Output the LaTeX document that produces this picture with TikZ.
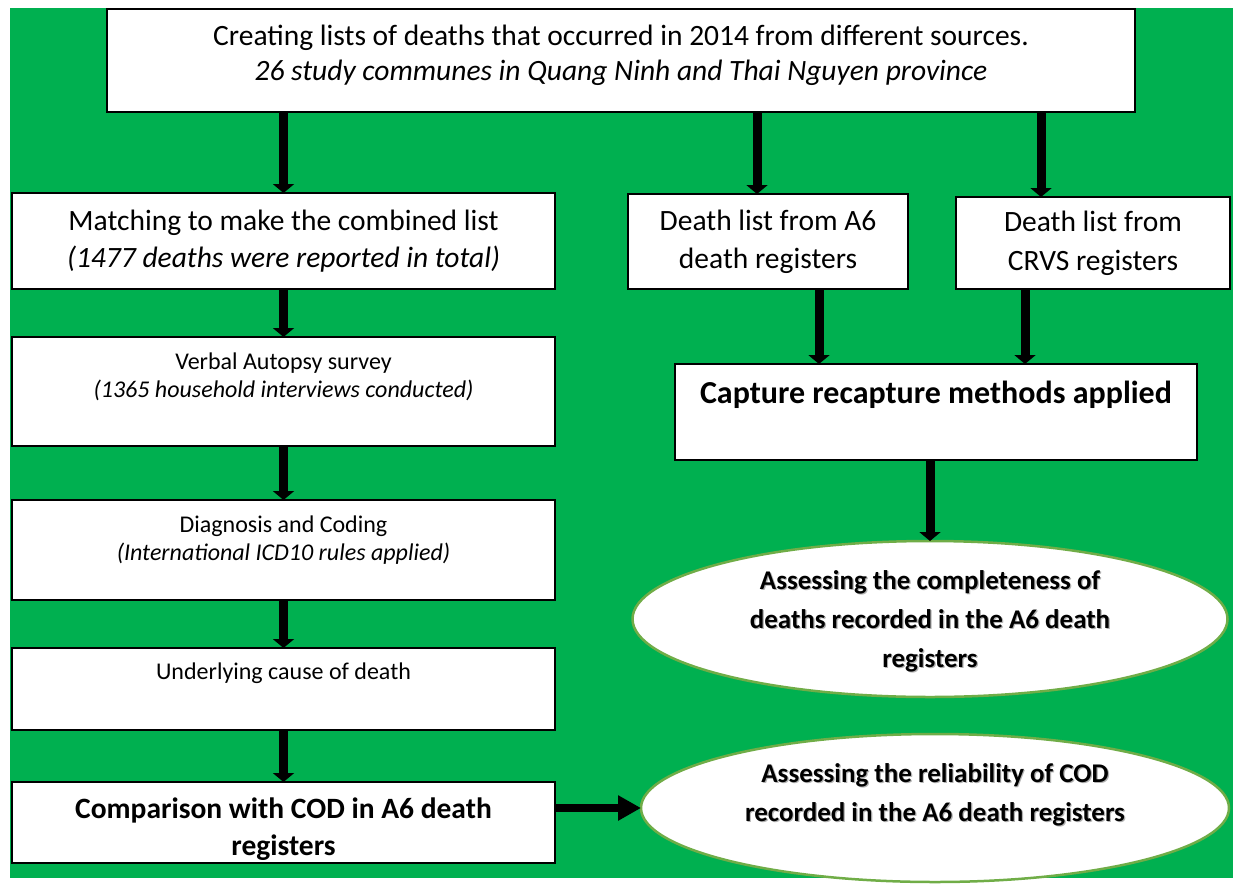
\documentclass[tikz,border=0pt]{standalone}
\usepackage{fontspec}
\setmainfont{Carlito}
\usetikzlibrary{arrows.meta,positioning,shapes.geometric}
\definecolor{bggreen}{RGB}{0,176,80}
\definecolor{ovalline}{RGB}{112,173,71}
% text block of fixed height, lines start at its top
\newcommand{\topfill}[3]{\parbox[c][#2][t]{#1}{\centering #3}}
% same, with a light shadow under the letters
\newcommand{\shadefill}[3]{\rlap{\hspace{1.2pt}\raisebox{-1.2pt}{\color{black!30}\topfill{#1}{#2}{#3}}}\topfill{#1}{#2}{#3}}
\tikzset{
  stepbox/.style={rectangle, draw=black, line width=2pt, fill=white,
                  align=center, inner sep=0pt, outer sep=0pt},
  leftbox/.style={stepbox, minimum width=543pt},
  ovalbox/.style={ellipse, draw=ovalline, line width=2.5pt, fill=white,
                  inner sep=0pt, outer sep=0pt,
                  font=\bfseries\fontsize{27}{39}\selectfont},
  txtlarge/.style={font=\fontsize{29.5}{37}\selectfont},
  txtsmall/.style={font=\fontsize{24}{28}\selectfont},
  txtbold/.style={font=\bfseries\fontsize{29.5}{37}\selectfont},
  downarr/.style={-{Triangle[width=21pt,length=9pt]}, line width=9pt, black},
  sidearr/.style={-{Triangle[width=24pt,length=23pt]}, line width=8pt, black},
}
\begin{document}
\begin{tikzpicture}[x=1pt,y=-1pt]
  % backdrop
  \fill[white] (0,0) rectangle (1233,878);
  \fill[bggreen] (10,8) rectangle (1233,878);

  % source lists
  \node[stepbox, line width=2.5pt, minimum width=1028pt, minimum height=103pt,
        font=\fontsize{29.5}{35}\selectfont] (src) at (621,60.5)
    {\topfill{1000pt}{70pt}{Creating lists of deaths that occurred in 2014 from different sources.\\ \textit{26 study communes in Quang Ninh and Thai Nguyen province}}};

  % left column
  \node[leftbox, minimum height=96pt, txtlarge] (match) at (283.5,241)
    {Matching to make the combined list\\ \textit{(1477 deaths were reported in total)}};
  \node[leftbox, minimum height=109pt, txtsmall, below=48pt of match] (va)
    {\topfill{520pt}{78pt}{Verbal Autopsy survey\\ \textit{(1365 household interviews conducted)}}};
  \node[leftbox, minimum height=100pt, txtsmall, below=54pt of va] (diag)
    {\topfill{520pt}{69pt}{Diagnosis and Coding\\ \textit{(International ICD10 rules applied)}}};
  \node[leftbox, minimum height=82pt, txtsmall, below=48pt of diag] (under)
    {\topfill{520pt}{53pt}{Underlying cause of death}};
  \node[leftbox, minimum height=81pt, txtbold, below=52pt of under] (comp)
    {\topfill{520pt}{50pt}{Comparison with COD in A6 death\\ registers}};

  % right column
  \node[stepbox, minimum width=280pt, minimum height=95pt, font=\fontsize{29.5}{38}\selectfont] (a6) at (768,241.5)
    {Death list from A6\\ death registers};
  \node[stepbox, minimum width=274pt, minimum height=92pt, font=\fontsize{29.5}{39}\selectfont] (crvs) at (1093,243)
    {Death list from\\ CRVS registers};
  \node[stepbox, minimum width=522pt, minimum height=96pt,
        font=\bfseries\fontsize{32}{38}\selectfont] (cap) at (936,412)
    {\topfill{510pt}{62pt}{Capture recapture methods applied}};
  \node[ovalbox, minimum width=595pt, minimum height=156pt] (compl) at (930,619)
    {\shadefill{400pt}{96pt}{Assessing the completeness of\\ deaths recorded in the A6 death\\ registers}};
  \node[ovalbox, minimum width=588pt, minimum height=148pt] (rel) at (935,808)
    {\shadefill{410pt}{88pt}{Assessing the reliability of COD\\ recorded in the A6 death registers}};

  % connectors
  \draw[downarr] (match.north |- src.south) -- (match.north);
  \draw[downarr] ([xshift=-11pt]a6.north |- src.south) -- ([xshift=-11pt]a6.north);
  \draw[downarr] ([xshift=-52pt]crvs.north |- src.south) -- ([xshift=-52pt]crvs.north);
  \draw[downarr] (match) -- (va);
  \draw[downarr] (va) -- (diag);
  \draw[downarr] (diag) -- (under);
  \draw[downarr] (under) -- (comp);
  \draw[downarr] ([xshift=51pt]a6.south) -- ([xshift=51pt]a6.south |- cap.north);
  \draw[downarr] ([xshift=-68pt]crvs.south) -- ([xshift=-68pt]crvs.south |- cap.north);
  \draw[downarr] (compl.north |- cap.south) -- (compl.north);
  \draw[sidearr] (comp.east |- rel.west) -- (rel.west);
\end{tikzpicture}
\end{document}
